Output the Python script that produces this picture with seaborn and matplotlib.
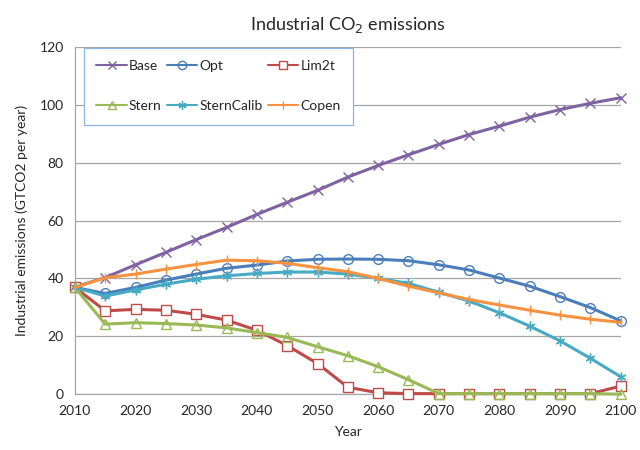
import matplotlib
matplotlib.use("Agg")
import matplotlib.pyplot as plt
import seaborn as sns
import pandas as pd

years = list(range(2010, 2101, 5))

base = [37, 40.3, 44.7, 49, 53.4, 57.6, 62.1, 66.3, 70.4, 75, 79, 82.7, 86.3,
        89.7, 92.6, 95.7, 98.3, 100.5, 102.4]
opt = [36.9, 34.8, 36.9, 39.4, 41.5, 43.5, 44.6, 46, 46.6, 46.7, 46.6, 46.1,
       44.7, 42.9, 40.1, 37.3, 33.7, 29.9, 25.3]
lim2t = [36.9, 28.8, 29.3, 29, 27.6, 25.6, 22.1, 16.8, 10.6, 2.4, 0.5, 0.2,
         0.2, 0.2, 0.2, 0.2, 0.2, 0.2, 2.8]
stern = [36.9, 24.2, 24.7, 24.4, 23.9, 22.9, 21.3, 19.6, 16.4, 13.3, 9.5, 5.0,
         0.2, 0.2, 0.2, 0.2, 0.2, 0.2, 0]
sterncalib = [36.9, 33.9, 36, 38, 39.7, 40.9, 41.7, 42.2, 42.2, 41.5, 40, 38.3,
              35.2, 32.2, 28.1, 23.5, 18.4, 12.4, 6]
copen = [36.9, 40.2, 41.5, 43.2, 44.8, 46.3, 46.1, 45.2, 43.7, 42.3, 40, 37.3,
         35, 32.7, 30.8, 29, 27.3, 25.9, 24.8]

series = {"Base": base, "Opt": opt, "Lim2t": lim2t, "Stern": stern,
          "SternCalib": sterncalib, "Copen": copen}

styles = {
    "Base": dict(color="#7F62A1", marker="x", mfc="#7F62A1"),
    "Opt": dict(color="#4A7EBB", marker="o", mfc="none"),
    "Lim2t": dict(color="#BE4B48", marker="s", mfc="white"),
    "Stern": dict(color="#98B954", marker="^", mfc="none"),
    "SternCalib": dict(color="#46AAC5", marker=(6, 2, 0), mfc="#46AAC5"),
    "Copen": dict(color="#F69240", marker="|", mfc="#F69240"),
}

df = pd.DataFrame(series, index=years)

sns.set_style("white")
plt.rcParams["font.family"] = ["Lato", "DejaVu Sans"]

fig = plt.figure(figsize=(6.4, 4.5), dpi=100)
ax = fig.add_axes([0.117, 0.124, 0.853, 0.772])

for name in series:
    st = styles[name]
    sns.lineplot(x=df.index, y=df[name], ax=ax, label=name, color=st["color"],
                 marker=st["marker"], markerfacecolor=st["mfc"],
                 markeredgecolor=st["color"], markersize=7, markeredgewidth=1,
                 linewidth=2.2, clip_on=False, zorder=3)

ax.set_xlim(2010, 2100)
ax.set_ylim(0, 120)
ax.set_xticks(range(2010, 2101, 10))
ax.set_yticks(range(0, 121, 20))
ax.tick_params(axis="both", length=0, labelsize=10, pad=8)
ax.yaxis.grid(True, color="#A6A6A6", linewidth=0.9)
ax.xaxis.grid(False)
for s in ["top", "right"]:
    ax.spines[s].set_visible(False)
for s in ["left", "bottom"]:
    ax.spines[s].set_color("#A6A6A6")
    ax.spines[s].set_linewidth(0.9)

ax.set_xlabel("Year", fontsize=10, labelpad=6)
ax.set_ylabel("Industrial emissions (GTCO2 per year)", fontsize=10, labelpad=8)
ax.set_title("Industrial CO$_2$ emissions", fontsize=13, pad=12)

handles, labels = ax.get_legend_handles_labels()
order = ["Base", "Stern", "Opt", "SternCalib", "Lim2t", "Copen"]
h = [handles[labels.index(n)] for n in order]
leg = ax.legend(h, order, ncol=3, loc="upper left",
                bbox_to_anchor=(0.0165, 0.781, 0.493, 0.216), mode="expand",
                borderaxespad=0, fontsize=10, frameon=True, fancybox=False,
                labelspacing=2.0, handlelength=2.2, handletextpad=0.15,
                columnspacing=0.5, borderpad=0.9)
leg.get_frame().set_edgecolor("#8EB4E3")
leg.get_frame().set_linewidth(0.9)
leg.get_frame().set_facecolor("white")
leg.get_frame().set_alpha(1)
leg.set_zorder(5)
for line in leg.get_lines():
    line.set_linewidth(1.5)
    line.set_markersize(6)

fig.savefig("out.png", dpi=100)
